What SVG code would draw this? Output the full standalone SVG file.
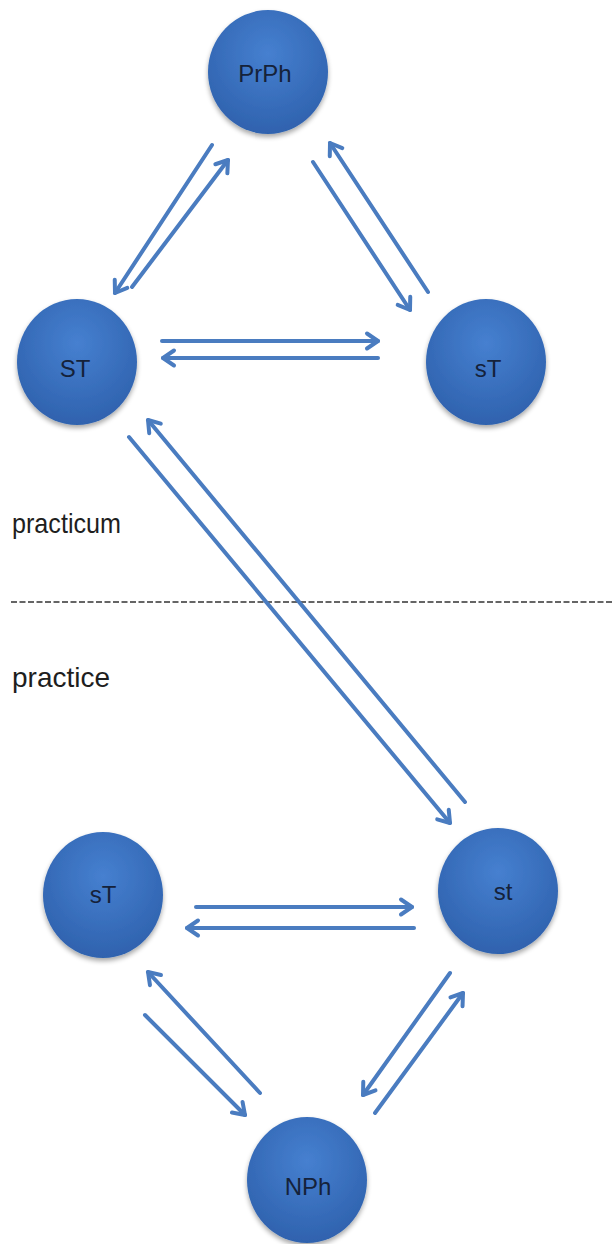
<svg xmlns="http://www.w3.org/2000/svg" width="614" height="1244" viewBox="0 0 614 1244">
<defs>
<radialGradient id="ball" cx="50%" cy="35%" r="65%">
<stop offset="0" stop-color="#4680d0"/>
<stop offset="1" stop-color="#2f62ae"/>
</radialGradient>
<filter id="sh" x="-20%" y="-20%" width="140%" height="150%">
<feGaussianBlur in="SourceAlpha" stdDeviation="2.5"/>
<feOffset dy="3" result="b"/>
<feComponentTransfer><feFuncA type="linear" slope="0.35"/></feComponentTransfer>
<feMerge><feMergeNode/><feMergeNode in="SourceGraphic"/></feMerge>
</filter>
<marker id="ah" markerUnits="userSpaceOnUse" viewBox="0 0 24 24" markerWidth="24" markerHeight="24" refX="19" refY="12" orient="auto">
<path d="M8,4.5 L19,12 L8,19.5" fill="none" stroke="#4a7cc0" stroke-width="4" stroke-linecap="round" stroke-linejoin="round"/>
</marker>
</defs>
<style>
.node ellipse{fill:url(#ball);filter:url(#sh)}
.node text{font-family:"Liberation Sans",Arial,sans-serif;font-size:24px;fill:#15223a;text-anchor:middle}
.conn line{stroke:#4a7cc0;stroke-width:4;stroke-linecap:round;marker-end:url(#ah)}
.lbl{font-family:"Liberation Sans",Arial,sans-serif;font-size:28px;fill:#1e1e1e}
.div{stroke:#333;stroke-width:1.6;stroke-dasharray:6 2.5}
</style>
<line class="div" x1="11" y1="602" x2="614" y2="602"/>
<text class="lbl" x="12" y="533" textLength="109" lengthAdjust="spacingAndGlyphs">practicum</text>
<text class="lbl" x="12" y="687" textLength="98" lengthAdjust="spacingAndGlyphs">practice</text>
<g class="conn">
<line x1="212" y1="145" x2="115" y2="293"/>
<line x1="132" y1="287" x2="228" y2="160"/>
<line x1="313" y1="162" x2="410" y2="310"/>
<line x1="428" y1="292" x2="330" y2="143"/>
<line x1="162" y1="341" x2="378" y2="341"/>
<line x1="378" y1="358" x2="163" y2="358"/>
<line x1="129" y1="437" x2="450" y2="823"/>
<line x1="465" y1="802" x2="148" y2="420"/>
<line x1="196" y1="907" x2="412" y2="907"/>
<line x1="414" y1="928" x2="187" y2="928"/>
<line x1="260" y1="1093" x2="148" y2="972"/>
<line x1="145" y1="1015" x2="245" y2="1115"/>
<line x1="450" y1="973" x2="363" y2="1095"/>
<line x1="375" y1="1113" x2="463" y2="993"/>
</g>
<g id="PrPh" class="node"><ellipse cx="268" cy="72" rx="60" ry="62"/><text x="265" y="82">PrPh</text></g>
<g id="ST" class="node"><ellipse cx="77" cy="362" rx="60" ry="63"/><text x="75" y="377">ST</text></g>
<g id="sT1" class="node"><ellipse cx="486" cy="362" rx="60" ry="63"/><text x="488" y="377">sT</text></g>
<g id="sT2" class="node"><ellipse cx="103" cy="895" rx="60" ry="63"/><text x="103" y="903">sT</text></g>
<g id="st" class="node"><ellipse cx="498" cy="891" rx="60" ry="63"/><text x="503" y="900">st</text></g>
<g id="NPh" class="node"><ellipse cx="307" cy="1180" rx="60" ry="63"/><text x="308" y="1195">NPh</text></g>
</svg>
